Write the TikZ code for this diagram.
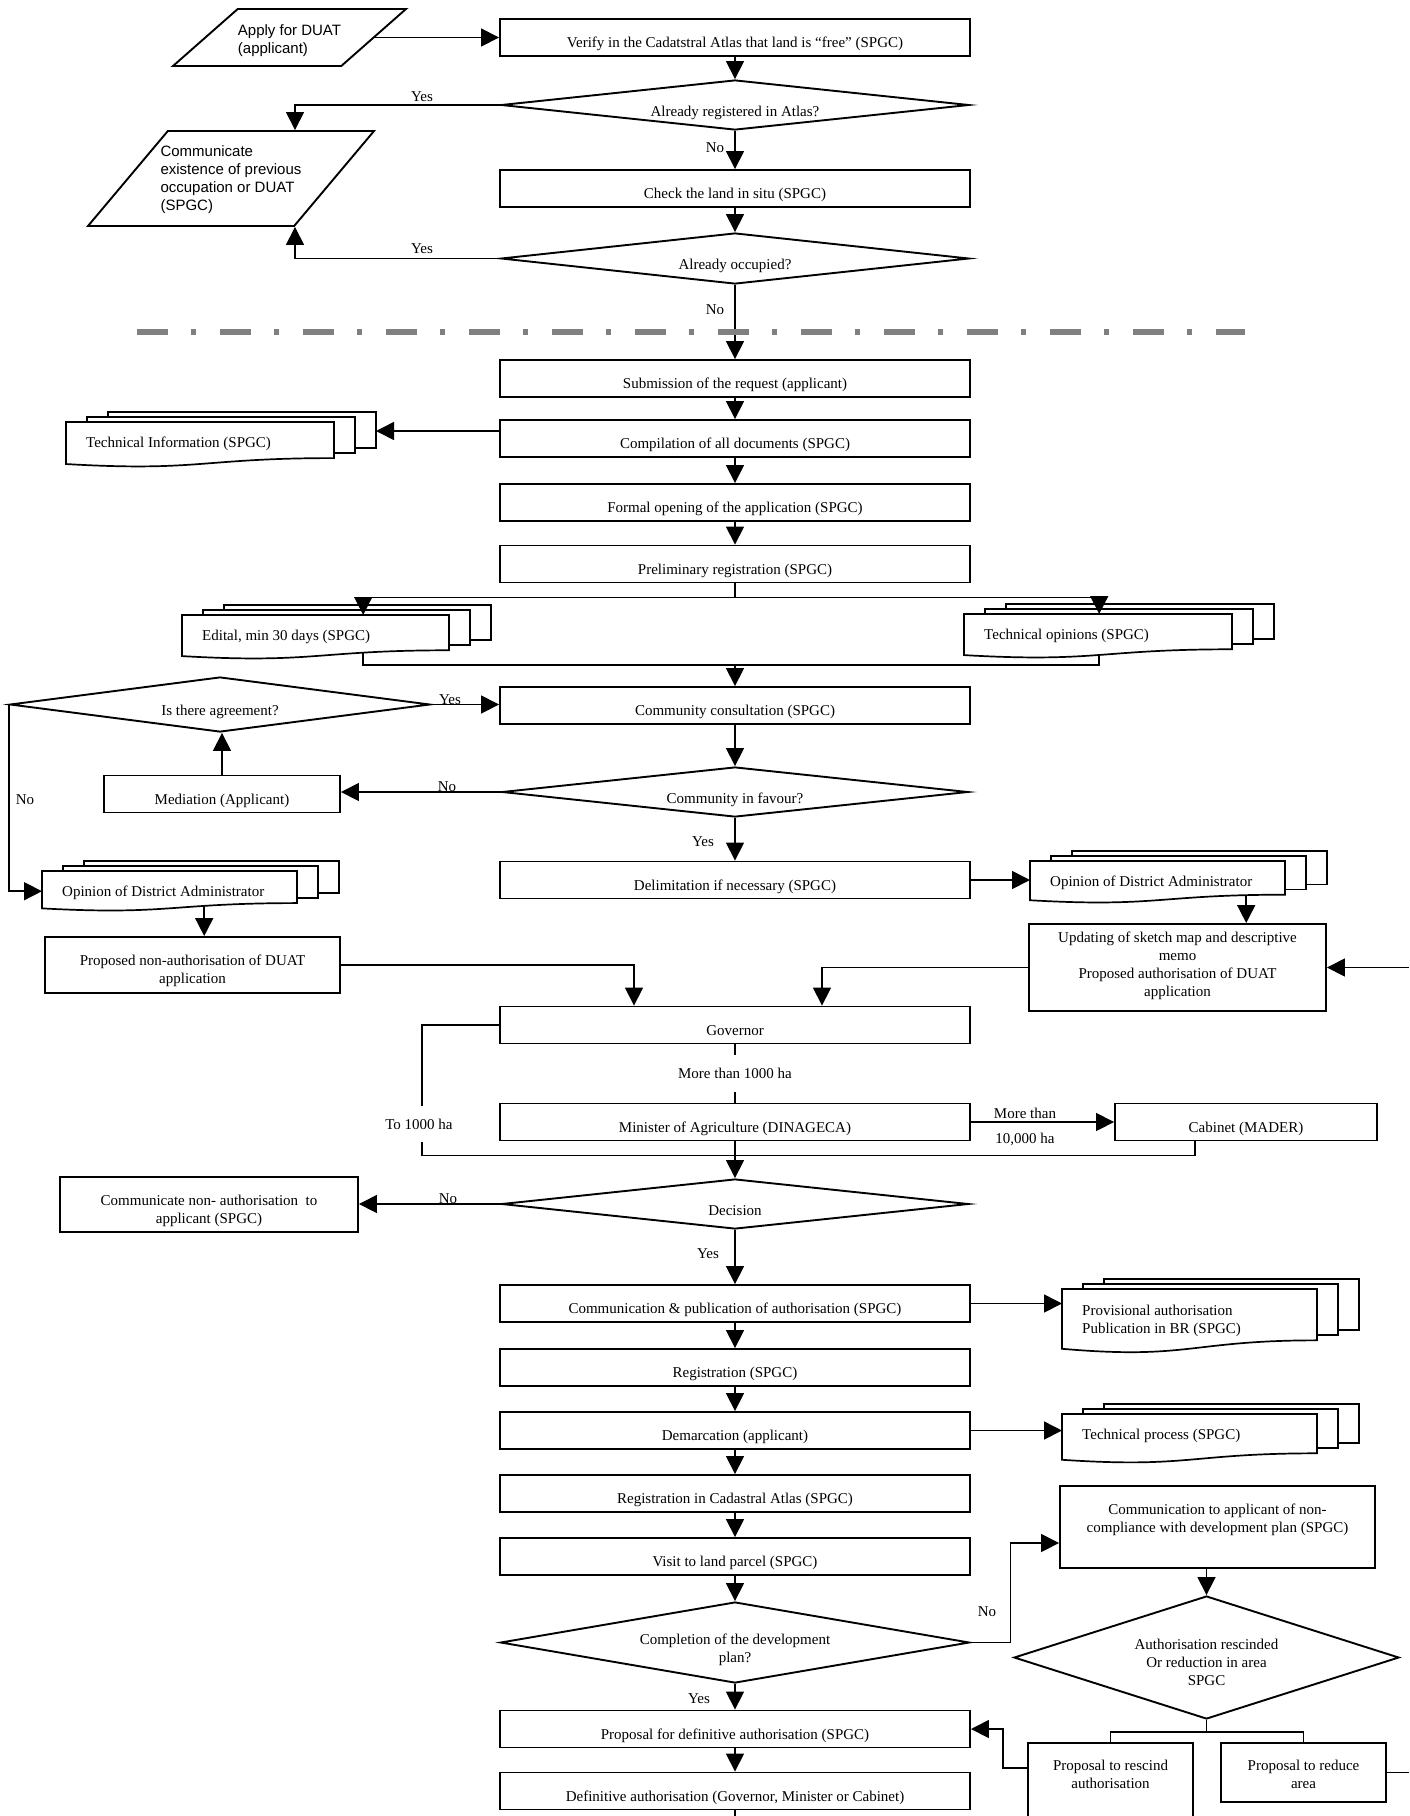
\documentclass[tikz,border=0pt]{standalone}
\usepackage{fontspec}
\setmainfont{Liberation Serif}
\newfontfamily\arialfont{Liberation Sans}
\usepackage{tikz}
\usetikzlibrary{arrows.meta,positioning,shapes.geometric}
\definecolor{sepgray}{RGB}{128,128,128}
\newcommand{\fs}{\fontsize{15}{18}\selectfont}
% text of several lines, taking no room in the node
\newcommand{\celltext}[3][c]{\raisebox{#2}[0pt][0pt]{\makebox[0pt]{\begin{tabular}{@{}#1@{}}#3\end{tabular}}}}
\tikzset{
  every node/.style={font=\fs},
  conn/.style={line width=1.6pt},
  arr/.style={conn,-{Triangle[length=18pt,width=18pt]}},
  proc/.style={draw,line width=1.9pt,fill=white,minimum width=470pt,inner xsep=2pt,inner ysep=0pt,text height=28.5pt,text depth=8.5pt},
  mbox/.style={draw,line width=1.9pt,fill=white,inner sep=0pt},
  ask/.style={diamond,aspect=9,draw,line width=1.9pt,fill=white,inner sep=0pt,text height=24pt,text depth=2pt},
  askm/.style={diamond,draw,line width=1.9pt,fill=white,inner sep=1pt},
  io/.style={trapezium,trapezium left angle=58,trapezium right angle=122,trapezium stretches=true,draw,line width=1.9pt,fill=white,inner sep=2pt,font=\arialfont\fs},
  sheet/.style={draw,line width=1.7pt,fill=white},
  doctext/.style={inner sep=0pt,align=left},
  lbl/.style={inner sep=1pt},
  sep/.style={sepgray,line width=6pt,dash pattern=on 31pt off 23pt on 5pt off 24pt}
}
% stack of three documents: [text offset]{name}{left}{top}{width}{height}{text}
\newcommand{\mdoc}[7][22]{%
  \draw[sheet] ({#3+42},{#4-10}) rectangle ++(#5,{0.8*#6});
  \draw[sheet] ({#3+21},{#4-5}) rectangle ++(#5,{0.8*#6});
  \draw[sheet] (#3,#4) -- ++(#5,0) -- ++(0,{0.802*#6})
    .. controls ({#3+0.5*#5},{#4+0.802*#6}) and ({#3+0.5*#5},{#4+1.107*#6}) .. (#3,{#4+0.934*#6}) -- cycle;
  \node[inner sep=0pt,minimum width=#5,minimum height=#6,anchor=north west] (#2) at (#3,#4) {};
  \node[doctext,anchor=west] (#2-t) at ({#3+20},{#4+#1}) {#7};
  \coordinate (#2-back) at ({#3+#5+42},{#4-10+0.4*#6});
}

\begin{document}
\begin{tikzpicture}[x=1pt,y=-1pt]
  \path[use as bounding box,fill=white] (0,0) rectangle (1409,1816);
  \def\colx{735}

  % Checking the land
  \node[io,minimum width=233pt,minimum height=57pt] (apply) at (289.5,37.5)
    {\celltext[l]{-6.75pt}{Apply for DUAT\\(applicant)}};
  \node[proc] (verify) at (\colx,37.5) {Verify in the Cadatstral Atlas that land is ``free'' (SPGC)};
  \node[ask,minimum width=468pt,minimum height=50pt] (regq) at (\colx,105) {Already registered in Atlas?};
  \node[proc] (check) at (\colx,188.5) {Check the land in situ (SPGC)};
  \node[ask,minimum width=468pt,minimum height=51pt] (occq) at (\colx,258.5) {Already occupied?};
  \node[io,trapezium left angle=57.7,trapezium right angle=122.3,minimum width=286pt,minimum height=95pt] (comm) at (231,178.5)
    {\celltext[l]{-4.75pt}{Communicate\\existence of previous\\occupation or DUAT\\(SPGC)}};

  \draw[arr] (apply.east) -- (verify.west);
  \draw[arr] (verify.south) -- (regq.north);
  \draw[arr] (regq.south) -- (check.north);
  \draw[arr] (check.south) -- (occq.north);
  \draw[arr] (regq.west) -| ([xshift=64pt]comm.north);
  \draw[arr] (occq.west) -| ([xshift=64pt]comm.south);
  \node[lbl] (yesA) at (422,97) {Yes};
  \node[lbl] (noA) at (715,148) {No};
  \node[lbl] (yesB) at (422,249) {Yes};
  \node[lbl] (noB) at (715,310) {No};

  % Application
  \node[proc] (submit) at (\colx,378.5) {Submission of the request (applicant)};
  \node[proc] (compile) at (\colx,438.5) {Compilation of all documents (SPGC)};
  \node[proc] (formal) at (\colx,502.5) {Formal opening of the application (SPGC)};
  \node[proc] (prelim) at (\colx,564) {Preliminary registration (SPGC)};
  \mdoc{techinfo}{66}{422}{268}{45}{Technical Information (SPGC)}
  \mdoc{edital}{182}{615}{267}{44}{Edital, min 30 days (SPGC)}
  \mdoc{techop}{964}{614}{268}{44}{Technical opinions (SPGC)}

  \draw[arr] (occq.south) -- (submit.north);
  \draw[sep] (137,332) -- (1245,332);
  \draw[arr] (submit.south) -- (compile.north);
  \draw[arr] ([yshift=7.5pt]compile.west) -- ([yshift=7.5pt]compile.west -| techinfo-back);
  \draw[arr] (compile.south) -- (formal.north);
  \draw[arr] (formal.south) -- (prelim.north);
  \draw[conn] (prelim.south) -- ++(0,14) coordinate (split);
  \draw[arr] (split) -| ([xshift=47.5pt]edital.north);
  \draw[arr] (split) -| ([xshift=1pt]techop.north);

  % Consultation
  \node[proc] (cons) at (\colx,705.5) {Community consultation (SPGC)};
  \node[ask,minimum width=466pt,minimum height=50pt] (fav) at (\colx,792) {Community in favour?};
  \node[ask,minimum width=420pt,minimum height=55pt] (agree) at (220,704.5) {Is there agreement?};
  \node[proc,minimum width=236pt] (med) at (222,794) {Mediation (Applicant)};
  \node[proc] (delim) at (\colx,880) {Delimitation if necessary (SPGC)};
  \mdoc{opL}{42}{871}{255}{40}{Opinion of District Administrator}
  \mdoc{opR}{1030}{861}{255}{42}{Opinion of District Administrator}
  \node[mbox,minimum width=295pt,minimum height=56pt] (nonauth) at (192.5,965)
    {\celltext{-9.75pt}{Proposed non-authorisation of DUAT\\application}};
  \node[mbox,minimum width=297pt,minimum height=87pt] (upd) at (1177.5,967.5)
    {\celltext{-2.25pt}{Updating of sketch map and descriptive\\memo\\Proposed authorisation of DUAT\\application}};

  \coordinate (merge) at ([yshift=21pt]cons.north);
  \draw[conn] ([xshift=47.5pt,yshift=6pt]edital.south) |- (merge) -| ([xshift=1pt,yshift=3pt]techop.south);
  \draw[arr] (merge) -- (cons.north);
  \draw[arr] (cons.south) -- (fav.north);
  \draw[arr] (fav.west) -- (fav.west -| med.east);
  \draw[arr] (med.north) -- (med.north |- agree.south);
  \draw[arr] (agree.east) -- (agree.east -| cons.west);
  \draw[arr] (agree.west) |- (opL.west);
  \draw[arr] (fav.south) -- (delim.north);
  \draw[arr] (delim.east) -- (delim.east -| opR.west);
  \draw[arr] ([xshift=34.5pt,yshift=5.5pt]opL.south) -- ([xshift=34.5pt]opL.south |- nonauth.north);
  \draw[arr] ([xshift=88.5pt,yshift=7.5pt]opR.south) -- ([xshift=88.5pt]opR.south |- upd.north);
  \coordinate (updIn) at (1409,967.5);
  \draw[arr] (updIn) -- (upd.east);
  \node[lbl] (yesC) at (450,700) {Yes};
  \node[lbl] (noC) at (447,787) {No};
  \node[lbl] (noD) at (25,800) {No};
  \node[lbl] (yesD) at (703,842) {Yes};

  % Decision
  \node[proc] (gov) at (\colx,1025) {Governor};
  \node[proc] (mini) at (\colx,1122) {Minister of Agriculture (DINAGECA)};
  \node[proc,minimum width=262pt] (cab) at (1246,1122) {Cabinet (MADER)};
  \node[ask,minimum width=467pt,minimum height=50pt] (dec) at (\colx,1204) {Decision};
  \node[mbox,minimum width=298pt,minimum height=55pt] (nonauthc) at (209,1204.5)
    {\celltext{-10.25pt}{Communicate non- authorisation\ \ to\\applicant (SPGC)}};

  \draw[arr] (nonauth.east) -| ([xshift=-101pt]gov.north);
  \draw[arr] (upd.west) -| ([xshift=87pt]gov.north);
  \draw[conn] (gov.south) -- node[lbl,fill=white,inner ysep=13pt] (lblMore) {More than 1000 ha} (mini.north);
  \coordinate (loopL) at ([xshift=-77pt]gov.west);
  \draw[conn] (gov.west) -| ([yshift=-14pt]loopL |- mini.south) -| ([xshift=-51pt]cab.south);
  \node[lbl,fill=white,inner ysep=13pt] (lblTo) at (419,1124) {To 1000 ha};
  \draw[arr] (mini.east) -- (cab.west);
  \node[lbl] (lblMoreB) at (1025,1113) {More than};
  \node[lbl] (lblTenK) at (1025,1139) {10,000 ha};
  \draw[arr] (mini.south) -- (dec.north);
  \draw[arr] (dec.west) -- (dec.west -| nonauthc.east);
  \node[lbl] (noE) at (448,1199) {No};
  \node[lbl] (yesE) at (708,1254) {Yes};

  % Authorisation
  \node[proc] (pub) at (\colx,1303.5) {Communication \& publication of authorisation (SPGC)};
  \node[proc] (reg) at (\colx,1367.5) {Registration (SPGC)};
  \node[proc] (dem) at (\colx,1430.5) {Demarcation (applicant)};
  \node[proc] (atlas) at (\colx,1493.5) {Registration in Cadastral Atlas (SPGC)};
  \node[proc] (visit) at (\colx,1556.5) {Visit to land parcel (SPGC)};
  \node[askm,minimum width=469pt,minimum height=81pt] (dev) at (\colx,1642.5)
    {\celltext{-11.25pt}{Completion of the development\\plan?}};
  \node[proc] (propdef) at (\colx,1729) {Proposal for definitive authorisation (SPGC)};
  \node[proc] (defin) at (\colx,1791) {Definitive authorisation (Governor, Minister or Cabinet)};
  \mdoc[31.5]{prov}{1062}{1289}{255}{64}{Provisional authorisation\\Publication in BR (SPGC)}
  \mdoc{tech}{1062}{1414}{255}{49}{Technical process (SPGC)}
  \node[mbox,minimum width=315pt,minimum height=82pt] (nc) at (1217.5,1527)
    {\celltext{3.75pt}{Communication to applicant of non-\\compliance with development plan (SPGC)}};
  \node[askm,minimum width=385pt,minimum height=123pt] (auth) at (1206.5,1657.5)
    {\celltext{-10.25pt}{Authorisation rescinded\\Or reduction in area\\SPGC}};
  \node[mbox,minimum width=165pt,minimum height=100pt] (resc) at (1110.5,1793)
    {\celltext{13.25pt}{Proposal to rescind\\authorisation}};
  \node[mbox,minimum width=165pt,minimum height=59pt] (red) at (1303.5,1772.5)
    {\celltext{-7.25pt}{Proposal to reduce\\area}};

  \draw[arr] (dec.south) -- (pub.north);
  \draw[arr] (pub.east) -- (pub.east -| prov.west);
  \draw[arr] (pub.south) -- (reg.north);
  \draw[arr] (reg.south) -- (dem.north);
  \draw[arr] (dem.east) -- (dem.east -| tech.west);
  \draw[arr] (dem.south) -- (atlas.north);
  \draw[arr] (atlas.south) -- (visit.north);
  \draw[arr] (visit.south) -- (dev.north);
  \draw[arr] (dev.south) -- (propdef.north);
  \draw[arr] (dev.east) -- ++(40,0) |- ([yshift=-16pt]nc.west);
  \draw[arr] (nc.south -| auth.north) -- (auth.north);
  \draw[conn] (auth.south) -- ++(0,12) coordinate (fork) -| (resc.north);
  \draw[conn] (fork) -| (red.north);
  \draw[arr] ([yshift=-26pt]resc.north west) -- ++(-24,0) |- (propdef.east);
  \coordinate (redOut) at (1409,1772.5);
  \draw[conn] (red.east) -- (redOut);
  \draw[arr] (propdef.south) -- (defin.north);
  \coordinate (definOut) at (\colx,1816);
  \draw[conn] (defin.south) -- (definOut);
  \node[lbl] (noF) at (987,1612) {No};
  \node[lbl] (yesF) at (699,1699) {Yes};
\end{tikzpicture}
\end{document}
